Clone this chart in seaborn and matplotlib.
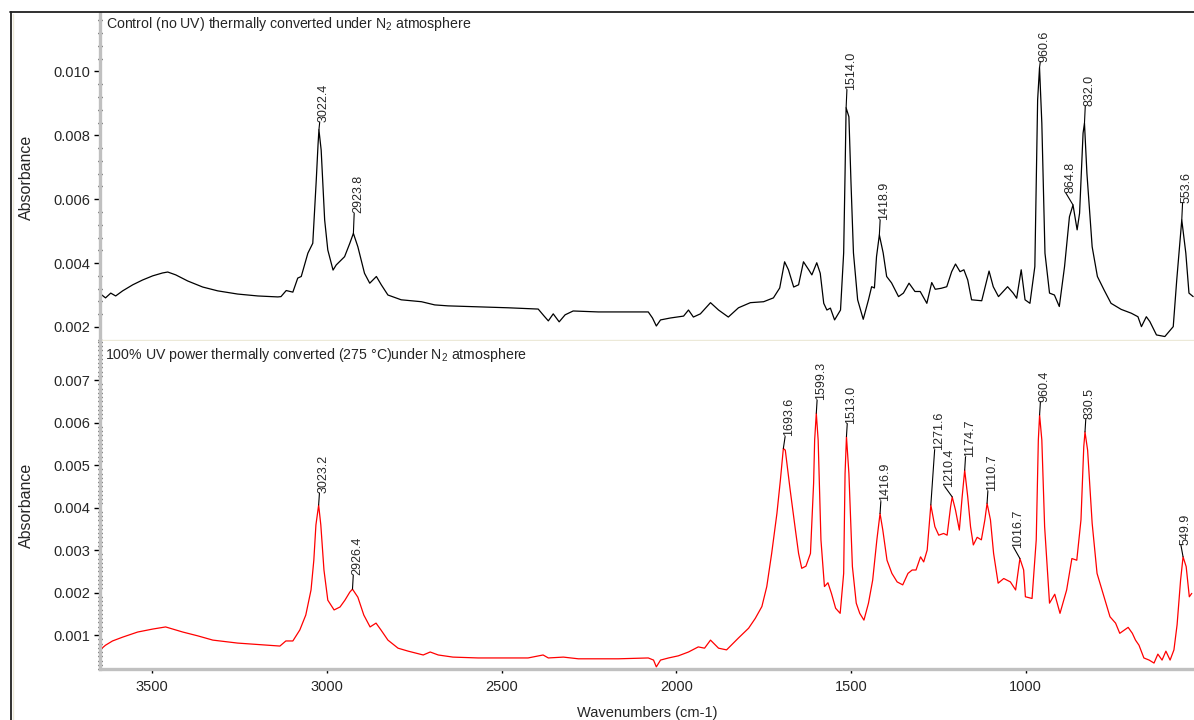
import numpy as np
import pandas as pd
import seaborn as sns
import matplotlib.pyplot as plt
from matplotlib.ticker import MultipleLocator, FormatStrFormatter
from matplotlib.lines import Line2D

# Control (no UV) spectrum
ctrl_wn = [3664, 3647, 3633, 3618, 3604, 3584, 3555, 3527, 3498, 3470,
           3455, 3432, 3398, 3355, 3312, 3255, 3197, 3140, 3131, 3116,
           3097, 3083, 3073, 3054, 3040, 3030, 3025, 3022.4, 3016, 3006,
           2997, 2982, 2973, 2949, 2934, 2923.8, 2911, 2892, 2877, 2858,
           2844, 2825, 2787, 2729, 2691, 2653, 2567, 2481, 2395, 2378,
           2366, 2352, 2335, 2318, 2295, 2223, 2137, 2080, 2068, 2057,
           2045, 2017, 1979, 1965, 1951, 1931, 1902, 1879, 1851, 1822,
           1788, 1750, 1722, 1704, 1690, 1679, 1664, 1650, 1636, 1621,
           1612, 1598, 1588, 1578, 1569, 1559, 1547, 1530, 1521, 1517,
           1514.0, 1506, 1500, 1493, 1481, 1465, 1450, 1441, 1433, 1427,
           1418.9, 1408, 1398, 1384, 1364, 1350, 1334, 1317, 1302, 1283,
           1269, 1259, 1242, 1226, 1212, 1201, 1188, 1177, 1166, 1155,
           1126, 1105, 1093, 1078, 1052, 1036, 1026, 1013, 1002, 988,
           974, 966, 960.6, 954, 945, 932, 918, 904, 889, 875,
           864.8, 853, 846, 836, 832.0, 825, 810, 795, 776, 756,
           727, 698, 679, 669, 655, 645, 626, 602, 578, 568,
           553.6, 542, 533, 521]
ctrl_abs = [.00294, .00303, .00291, .00306, .00297, .00313, .00332, .00347, .00360, .00369,
            .00372, .00363, .00344, .00325, .00313, .00303, .00297, .00294, .00295, .00314,
            .00309, .00353, .00358, .00431, .00462, .00660, .00770, .00817, .00754, .00535,
            .00441, .00378, .00394, .00420, .00462, .00493, .00451, .00368, .00337, .00358,
            .00332, .00300, .00285, .00279, .00269, .00266, .00263, .00260, .00256, .00234,
            .00219, .00241, .00216, .00238, .00250, .00247, .00247, .00247, .00228, .00203,
            .00222, .00228, .00234, .00253, .00231, .00241, .00276, .00253, .00231, .00260,
            .00276, .00279, .00291, .00322, .00404, .00379, .00325, .00332, .00404, .00379,
            .00363, .00401, .00368, .00274, .00253, .00259, .00222, .00253, .00432, .00682,
            .00886, .00858, .00651, .00432, .00285, .00224, .00285, .00326, .00322, .00420,
            .00488, .00432, .00358, .00338, .00295, .00306, .00337, .00311, .00311, .00274,
            .00339, .00318, .00321, .00326, .00373, .00397, .00373, .00379, .00347, .00285,
            .00282, .00375, .00326, .00295, .00326, .00306, .00290, .00379, .00285, .00274,
            .00389, .00911, .01012, .00838, .00431, .00306, .00300, .00264, .00389, .00545,
            .00582, .00504, .00556, .00807, .00838, .00681, .00451, .00358, .00316, .00274,
            .00255, .00243, .00232, .00201, .00232, .00217, .00175, .00170, .00201, .00347,
            .00535, .00431, .00306, .00295]

# 100% UV power spectrum
uv_wn = [3656, 3633, 3613, 3584, 3541, 3498, 3461, 3441, 3412, 3369,
         3326, 3255, 3169, 3134, 3117, 3097, 3077, 3060, 3045, 3037,
         3031, 3023.2, 3017, 3008, 2997, 2979, 2962, 2948, 2934, 2926.4,
         2911, 2894, 2876, 2859, 2845, 2825, 2796, 2767, 2724, 2704,
         2681, 2639, 2567, 2481, 2424, 2381, 2366, 2323, 2280, 2166,
         2080, 2065, 2057, 2045, 2022, 1994, 1965, 1937, 1919, 1902,
         1879, 1856, 1822, 1793, 1774, 1755, 1741, 1727, 1712, 1702,
         1693.6, 1688, 1674, 1659, 1650, 1641, 1629, 1616, 1607, 1604,
         1599.3, 1594, 1586, 1576, 1566, 1556, 1544, 1531, 1521, 1517,
         1513.0, 1506, 1496, 1485, 1475, 1463, 1450, 1438, 1426, 1416.9,
         1409, 1397, 1383, 1368, 1352, 1337, 1325, 1314, 1301, 1292,
         1282, 1271.6, 1260, 1249, 1235, 1225, 1215, 1210.4, 1201, 1190,
         1182, 1174.7, 1166, 1158, 1150, 1139, 1127, 1117, 1110.7, 1101,
         1092, 1079, 1063, 1044, 1029, 1016.7, 1006, 1001, 982, 970,
         964, 960.4, 954, 946, 932, 917, 902, 883, 868, 854,
         842, 834, 830.5, 823, 810, 796, 779, 759, 743, 731,
         707, 695, 686, 676, 662, 647, 633, 622, 610, 599,
         587, 576, 567, 557, 549.9, 541, 532, 525]
uv_abs = [.00060, .00076, .00086, .00095, .00107, .00114, .00119, .00114, .00107, .00098,
          .00088, .00081, .00076, .00074, .00086, .00086, .00112, .00147, .00206, .00276,
          .00359, .00406, .00359, .00253, .00182, .00159, .00166, .00182, .00201, .00208,
          .00189, .00147, .00119, .00128, .00112, .00088, .00069, .00062, .00053, .00060,
          .00053, .00048, .00046, .00046, .00046, .00053, .00046, .00048, .00044, .00044,
          .00046, .00041, .00025, .00041, .00046, .00051, .00060, .00072, .00069, .00088,
          .00069, .00065, .00093, .00116, .00139, .00167, .00214, .00292, .00386, .00465,
          .00539, .00535, .00441, .00347, .00292, .00257, .00262, .00292, .00457, .00559,
          .00622, .00559, .00324, .00214, .00223, .00198, .00163, .00151, .00245, .00480,
          .00567, .00480, .00261, .00175, .00151, .00135, .00175, .00229, .00324, .00386,
          .00347, .00276, .00245, .00225, .00218, .00245, .00253, .00253, .00284, .00272,
          .00300, .00406, .00355, .00335, .00339, .00335, .00402, .00425, .00394, .00347,
          .00425, .00488, .00425, .00355, .00312, .00330, .00324, .00371, .00410, .00371,
          .00292, .00222, .00233, .00225, .00206, .00280, .00253, .00190, .00186, .00324,
          .00559, .00618, .00559, .00355, .00175, .00196, .00151, .00206, .00280, .00276,
          .00371, .00543, .00578, .00535, .00363, .00245, .00198, .00143, .00128, .00104,
          .00118, .00104, .00088, .00076, .00046, .00041, .00034, .00055, .00041, .00062,
          .00041, .00065, .00124, .00229, .00284, .00261, .00190, .00198]

ctrl_peaks = [3022.4, 2923.8, 1514.0, 1418.9, 960.6, 864.8, 832.0, 553.6]
uv_peaks = [3023.2, 2926.4, 1693.6, 1599.3, 1513.0, 1416.9, 1271.6, 1210.4,
            1174.7, 1110.7, 1016.7, 960.4, 830.5, 549.9]

ctrl_title = 'Control (no UV) thermally converted under N$_2$ atmosphere'
uv_title = '100% UV power thermally converted (275 \u00b0C)under N$_2$ atmosphere'

# label leader layout in pixels: (rise of leader, text x offset)
ctrl_lead = [(8, 5), (20, 5), (18, 5), (15, 5), (6, 5), (12, -3), (17, 5), (17, 5)]
uv_lead = [(12, 5), (14, 5), (12, 6), (13, 5), (13, 5), (12, 5), (55, 8), (10, -3),
           (13, 5), (12, 5), (11, -2), (13, 5), (13, 5), (12, 2)]

sns.set_style('white')
plt.rcParams['font.family'] = ['Liberation Sans', 'DejaVu Sans']
plt.rcParams['mathtext.fontset'] = 'custom'
plt.rcParams['mathtext.rm'] = 'Liberation Sans'
plt.rcParams['mathtext.it'] = 'Liberation Sans:italic'

W, H = 1194, 720
fig = plt.figure(figsize=(W / 100, H / 100), dpi=100)


def box(l, t, r, b):
    return [l / W, 1 - b / H, (r - l) / W, (b - t) / H]


ax_top = fig.add_axes(box(100, 13, 1194, 341))
ax_bot = fig.add_axes(box(100, 341, 1194, 669))

df_ctrl = pd.DataFrame({'Wavenumbers (cm-1)': ctrl_wn, 'Absorbance': ctrl_abs})
df_uv = pd.DataFrame({'Wavenumbers (cm-1)': uv_wn, 'Absorbance': uv_abs})

sns.lineplot(data=df_ctrl, x='Wavenumbers (cm-1)', y='Absorbance', ax=ax_top,
             color='black', lw=0.9, estimator=None)
sns.lineplot(data=df_uv, x='Wavenumbers (cm-1)', y='Absorbance', ax=ax_bot,
             color='#ff0000', lw=0.9, estimator=None)

x_left, x_right = 3648.8, 518.6
ax_top.set_ylim(0.00156, 0.01183)
ax_bot.set_ylim(0.0002, 0.00792)
ax_top.yaxis.set_major_locator(MultipleLocator(0.002))
ax_top.yaxis.set_minor_locator(MultipleLocator(0.0004))
ax_bot.yaxis.set_major_locator(MultipleLocator(0.001))
ax_bot.yaxis.set_minor_locator(MultipleLocator(0.0001))

for ax in (ax_top, ax_bot):
    ax.set_xlim(x_left, x_right)
    ax.spines['top'].set_visible(False)
    ax.spines['right'].set_visible(False)
    ax.spines['left'].set_color('#c0c0c0')
    ax.spines['left'].set_linewidth(2.4)
    ax.yaxis.set_major_formatter(FormatStrFormatter('%.3f'))
    ax.tick_params(axis='y', which='major', direction='out', length=4, width=1,
                   color='black', pad=3, labelsize=10.5, left=True)
    ax.tick_params(axis='y', which='minor', direction='inout', length=2.5, width=1,
                   color='black', left=True)
    ax.set_ylabel('Absorbance', fontsize=11.5)
    ax.yaxis.set_label_coords(-66 / 1094, 0.5)

ax_top.spines['bottom'].set_color('#ece9d8')
ax_top.spines['bottom'].set_linewidth(2.4)
ax_top.set_xlabel('')
ax_top.tick_params(axis='x', which='both', bottom=False, labelbottom=False)

ax_bot.spines['bottom'].set_color('#c0c0c0')
ax_bot.spines['bottom'].set_linewidth(2.4)
ax_bot.xaxis.set_major_locator(MultipleLocator(500))
ax_bot.xaxis.set_minor_locator(MultipleLocator(100))
ax_bot.xaxis.set_major_formatter(FormatStrFormatter('%d'))
ax_bot.tick_params(axis='x', which='major', direction='out', length=3, width=1,
                   color='black', pad=5, labelsize=10.5, bottom=True)
ax_bot.tick_params(axis='x', which='minor', direction='inout', length=2, width=1,
                   color='black', bottom=True)
ax_bot.set_xlabel('Wavenumbers (cm-1)', fontsize=10.5)
ax_bot.xaxis.set_label_coords(0.5, -37 / 328)

ax_top.annotate(ctrl_title, xy=(0, 1), xycoords='axes fraction', xytext=(6, -11),
                textcoords='offset pixels', ha='left', va='center', fontsize=10.2)
ax_bot.annotate(uv_title, xy=(0, 1), xycoords='axes fraction', xytext=(5, -14),
                textcoords='offset pixels', ha='left', va='center', fontsize=10.2)


def label_peaks(ax, wn, ab, peaks, lead):
    for p, (rise, dx) in zip(peaks, lead):
        a = ab[wn.index(p)]
        ax.annotate(f'{p:.1f}', xy=(p, a), xytext=(dx, rise), textcoords='offset pixels',
                    rotation=90, ha='center', va='bottom', fontsize=9,
                    arrowprops=dict(arrowstyle='-', color='black', lw=0.8,
                                    shrinkA=0, shrinkB=0, patchA=None,
                                    relpos=(0.15, 0)))


label_peaks(ax_top, ctrl_wn, ctrl_abs, ctrl_peaks, ctrl_lead)
label_peaks(ax_bot, uv_wn, uv_abs, uv_peaks, uv_lead)

# window frame around the plot
fig.add_artist(Line2D([10.5 / W, 10.5 / W], [0, 1 - 12 / H], transform=fig.transFigure,
                      color='#202020', lw=1.3))
fig.add_artist(Line2D([10 / W, 1], [1 - 12 / H, 1 - 12 / H], transform=fig.transFigure,
                      color='#202020', lw=1.3))
fig.add_artist(Line2D([13 / W, 13 / W], [0, 1 - 13.5 / H], transform=fig.transFigure,
                      color='#ece9d8', lw=1))

fig.savefig('out.png', dpi=100)
